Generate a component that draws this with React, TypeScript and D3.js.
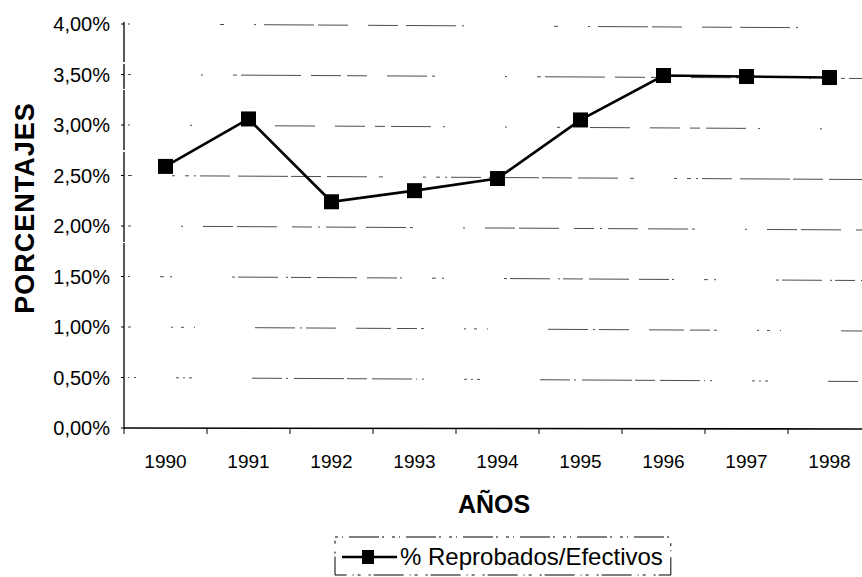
import React, { useEffect, useRef } from "react";
import * as d3 from "d3";

const years = ["1990", "1991", "1992", "1993", "1994", "1995", "1996", "1997", "1998"];
const reprobados = [0.0259, 0.0306, 0.0224, 0.0235, 0.0247, 0.0305, 0.0349, 0.0348, 0.0347];
const yTicks = [0, 0.005, 0.01, 0.015, 0.02, 0.025, 0.03, 0.035, 0.04];
const seriesName = "% Reprobados/Efectivos";
const xTitle = "AÑOS";
const yTitle = "PORCENTAJES";

const W = 862;
const H = 577;
const FONT = "'Liberation Sans', Arial, sans-serif";

const gridPatterns = [
  "1,5,2,40,3,4,2,4,3,60,30,4,2,6,50,3,20,5,40,4",
  "3,40,2,8,3,10,1,60,40,5,2,4,30,20,35,6,20,4",
  "2,30,4,6,2,60,3,3,40,8,2,3,20,6,40,10,30,3",
  "3,50,2,20,30,4,40,15,20,6,2,6,30,10,40,4",
  "4,40,3,10,4,5,2,4,30,8,50,3,30,6,40,12",
  "2,60,2,50,3,30,40,20,30,10,10,6,40,12",
  "3,70,2,30,4,4,60,10,30,6,20,20,40,5",
  "2,90,4,30,2,8,50,4,30,20,30,8,50,6",
];

export default function App() {
  const ref = useRef<SVGSVGElement | null>(null);

  useEffect(() => {
    const svg = d3.select(ref.current);
    svg.selectAll("*").remove();

    const left = 124;
    const step = 83;
    const x = d3.scaleBand().domain(years).range([left, left + step * years.length]).padding(0);
    const y = d3.scaleLinear().domain([0, 0.04]).range([428, 24]);
    const fmt = (v: number) => (v * 100).toFixed(2).replace(".", ",") + "%";

    // gridlines (scanned, broken look)
    svg.append("g")
      .selectAll("line")
      .data(yTicks.slice(1))
      .join("line")
      .attr("x1", left + 4)
      .attr("x2", W)
      .attr("y1", (d) => y(d))
      .attr("y2", (d) => y(d) + 4)
      .attr("stroke", "#000")
      .attr("stroke-width", 1)
      .attr("stroke-opacity", 0.7)
      .attr("stroke-dasharray", (_, i) => gridPatterns[i % gridPatterns.length]);

    // y axis line
    svg.append("line")
      .attr("x1", left).attr("x2", left)
      .attr("y1", y(0.04) - 2).attr("y2", y(0))
      .attr("stroke", "#000").attr("stroke-width", 1.3)
      .attr("stroke-dasharray", "40,2,25,1,60,2,90,1,200");

    // y tick marks
    svg.append("g")
      .selectAll("line")
      .data(yTicks)
      .join("line")
      .attr("x1", left - 3).attr("x2", left)
      .attr("y1", (d) => y(d)).attr("y2", (d) => y(d))
      .attr("stroke", "#000").attr("stroke-width", 1);

    // y tick labels
    svg.append("g")
      .selectAll("text")
      .data(yTicks)
      .join("text")
      .attr("x", 110)
      .attr("y", (d) => y(d))
      .attr("dy", "0.35em")
      .attr("text-anchor", "end")
      .attr("font-family", FONT)
      .attr("font-size", 20)
      .text((d) => fmt(d));

    // x axis line
    svg.append("line")
      .attr("x1", left).attr("x2", W)
      .attr("y1", y(0)).attr("y2", y(0) + 1)
      .attr("stroke", "#000").attr("stroke-width", 1.6);

    // x ticks at band boundaries
    const bounds = years.map((d) => x(d) as number).concat([(x(years[years.length - 1]) as number) + x.bandwidth()]);
    svg.append("g")
      .selectAll("line")
      .data(bounds)
      .join("line")
      .attr("x1", (d) => d).attr("x2", (d) => d)
      .attr("y1", y(0)).attr("y2", y(0) + 6)
      .attr("stroke", "#000").attr("stroke-width", 1);

    // x tick labels
    svg.append("g")
      .selectAll("text")
      .data(years)
      .join("text")
      .attr("x", (d) => (x(d) as number) + x.bandwidth() / 2)
      .attr("y", 468)
      .attr("text-anchor", "middle")
      .attr("font-family", FONT)
      .attr("font-size", 19)
      .text((d) => d);

    // line
    const cx = (i: number) => (x(years[i]) as number) + x.bandwidth() / 2;
    const line = d3.line<number>().x((_, i) => cx(i)).y((d) => y(d));
    svg.append("path")
      .datum(reprobados)
      .attr("d", line)
      .attr("fill", "none")
      .attr("stroke", "#000")
      .attr("stroke-width", 2.6);

    // markers
    const ms = 15;
    svg.append("g")
      .selectAll("rect")
      .data(reprobados)
      .join("rect")
      .attr("x", (_, i) => cx(i) - ms / 2)
      .attr("y", (d) => y(d) - ms / 2)
      .attr("width", ms)
      .attr("height", ms)
      .attr("fill", "#000");

    // axis titles
    svg.append("text")
      .attr("x", 494)
      .attr("y", 513)
      .attr("text-anchor", "middle")
      .attr("font-family", FONT)
      .attr("font-weight", "bold")
      .attr("font-size", 25)
      .text(xTitle);

    svg.append("text")
      .attr("transform", `translate(34,208) rotate(-90)`)
      .attr("text-anchor", "middle")
      .attr("font-family", FONT)
      .attr("font-weight", "bold")
      .attr("font-size", 27)
      .attr("letter-spacing", 1)
      .text(yTitle);

    // legend
    const lg = svg.append("g");
    const lx = 335, ly = 537;
    const txt = lg.append("text")
      .attr("x", lx + 65)
      .attr("y", 557)
      .attr("dy", "0.35em")
      .attr("font-family", FONT)
      .attr("font-size", 24)
      .text(seriesName);
    const tw = (txt.node() as SVGTextElement).getComputedTextLength();
    lg.insert("rect", "text")
      .attr("x", lx)
      .attr("y", ly)
      .attr("width", 65 + tw + 8)
      .attr("height", 38)
      .attr("fill", "none")
      .attr("stroke", "#000")
      .attr("stroke-width", 1)
      .attr("stroke-dasharray", "3,4,1,6,30,3,2,8");
    lg.append("line")
      .attr("x1", lx + 7).attr("x2", lx + 62)
      .attr("y1", 557).attr("y2", 557)
      .attr("stroke", "#000").attr("stroke-width", 2.6);
    lg.append("rect")
      .attr("x", lx + 33 - 6).attr("y", 557 - 7)
      .attr("width", 12).attr("height", 14)
      .attr("fill", "#000");
  }, []);

  return (
    <svg
      ref={ref}
      width={W}
      height={H}
      style={{ position: "absolute", left: 0, top: 0, background: "#fff" }}
    />
  );
}
